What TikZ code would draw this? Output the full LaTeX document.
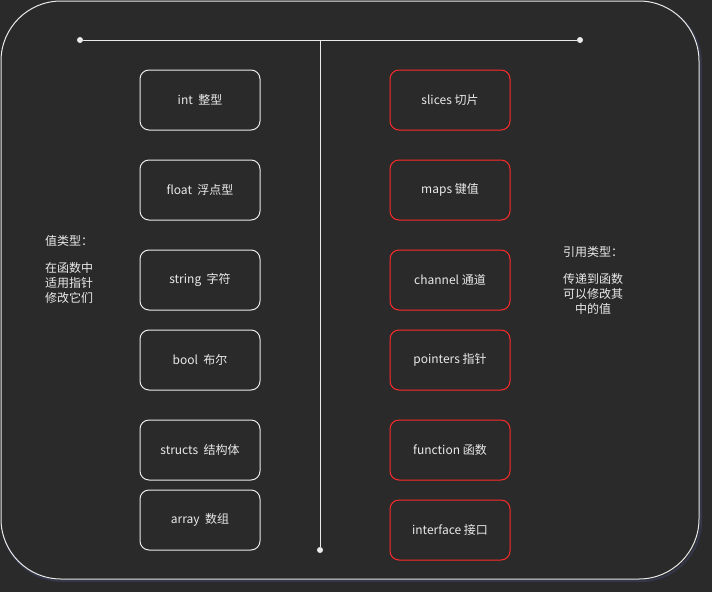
\documentclass[tikz,border=0pt]{standalone}
\usepackage{fontspec}
\setmainfont{Noto Sans CJK SC}
\usetikzlibrary{positioning}

\definecolor{bgdark}{HTML}{2A2A2A}
\definecolor{lineg}{HTML}{EAEAEA}
\definecolor{refred}{HTML}{FF2A2A}
\definecolor{shadowb}{HTML}{34364A}

\tikzset{
  valbox/.style={draw=lineg, line width=1pt, rectangle, rounded corners=9pt, minimum width=120pt, minimum height=60pt, text=lineg, font=\fontsize{12}{14}\selectfont},
  refbox/.style={valbox, draw=refred},
  note/.style={text=lineg, font=\fontsize{12}{15}\selectfont, inner sep=0pt},
  dot/.style={circle, fill=lineg, inner sep=0pt, minimum size=6pt}
}

\begin{document}
\begin{tikzpicture}[x=1pt, y=-1pt]

% Background
\fill[bgdark] (0,0) rectangle (712,592);
\useasboundingbox (0,0) rectangle (712,592);

% Outer frame
\draw[shadowb, line width=2pt, rounded corners=60pt] (2,3) rectangle (701,581);
\fill[bgdark, rounded corners=60pt] (1,1) rectangle (699,579);
\draw[lineg, line width=1pt, rounded corners=60pt] (1,1) rectangle (699,579);

% Axis
\node[dot] (ltop) at (80, 40) {};
\node[dot] (rtop) at (580, 40) {};
\coordinate (mtop) at (320, 40);
\node[dot] (mbot) at (320, 550) {};
\draw[lineg, line width=1pt] (ltop) -- (rtop);
\draw[lineg, line width=1pt] (mtop) -- (mbot);

% Value types
\node[valbox] (intbox) at (200, 100) {int\ \ 整型};
\node[valbox] (floatbox) at (200, 190) {float\ \ 浮点型};
\node[valbox] (stringbox) at (200, 280) {string\ \ 字符};
\node[valbox] (boolbox) at (200, 360) {bool\ \ 布尔};
\node[valbox] (structbox) at (200, 450) {structs\ \ 结构体};
\node[valbox] (arraybox) at (200, 520) {array\ \ 数组};

% Reference types
\node[refbox] (slicebox) at (450, 100) {slices 切片};
\node[refbox] (mapbox) at (450, 190) {maps 键值};
\node[refbox] (chanbox) at (450, 280) {channel 通道};
\node[refbox] (ptrbox) at (450, 360) {pointers 指针};
\node[refbox] (funcbox) at (450, 450) {function 函数};
\node[refbox] (ifacebox) at (450, 530) {interface 接口};

% Side notes
\node[note, anchor=north west, align=left] (valnote) at (45, 235) {值类型：\\[12pt]在函数中\\适用指针\\修改它们};
\node[note, anchor=north, align=center] (refnote) at (593, 246) {引用类型：\\[12pt]传递到函数\\可以修改其\\中的值};

\end{tikzpicture}
\end{document}
